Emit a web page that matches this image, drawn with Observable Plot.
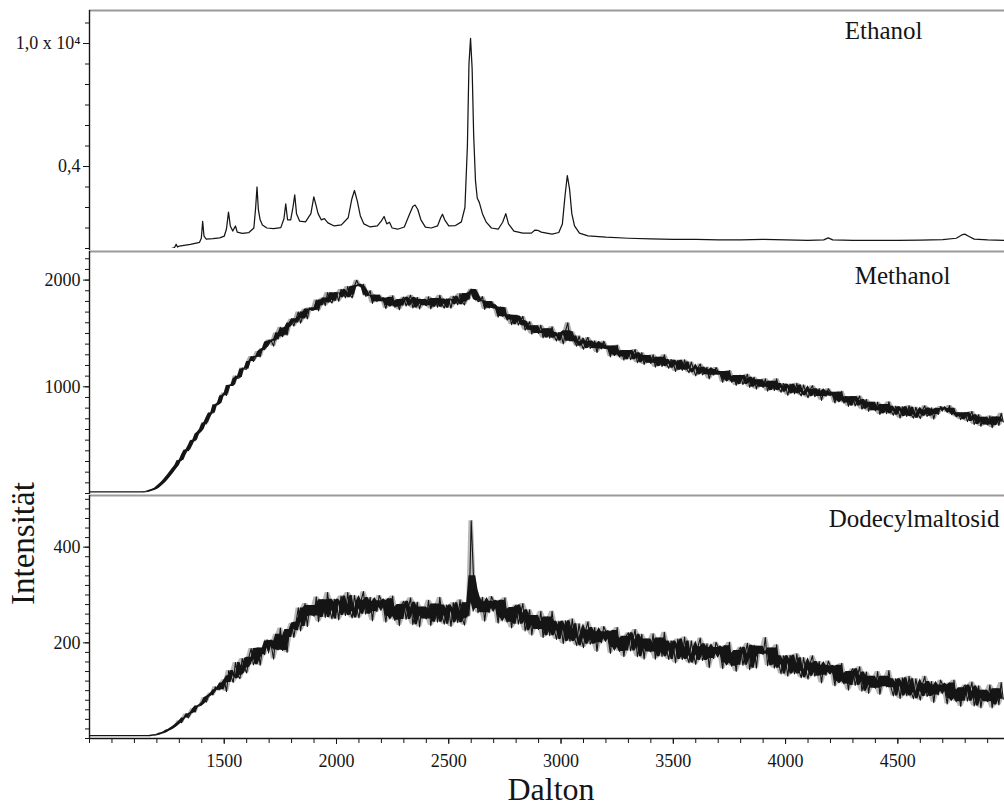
<!DOCTYPE html>
<html><head><meta charset="utf-8">
<script src="https://cdn.jsdelivr.net/npm/d3@7"></script>
<script src="https://cdn.jsdelivr.net/npm/@observablehq/plot@0.6"></script>
<style>
body{margin:0;background:#fff;}
#chart{width:1004px;height:810px;position:relative;overflow:hidden;background:#fff;}
#chart svg{display:block;}
</style></head><body><div id="chart"></div>
<script>
// ---------- data ----------
const xDomain = [900, 4975];
const xMinorTicks = [900,1000,1100,1200,1300,1400,1500,1600,1700,1800,1900,2000,2100,2200,2300,2400,2500,2600,2700,2800,2900,3000,3100,3200,3300,3400,3500,3600,3700,3800,3900,4000,4100,4200,4300,4400,4500,4600,4700,4800,4900];
const xLabelTicks = [1500,2000,2500,3000,3500,4000,4500];

const panelNames = ["Ethanol", "Methanol", "Dodecylmaltosid"];

// Ethanol (units of 10^4)
const ethanolDalton = [900,1000,1100,1200,1265,1278,1286,1292,1300,1350,1390,1398,1404,1410,1420,1450,1480,1500,1510,1519,1527,1538,1550,1558,1580,1610,1632,1640,1646,1652,1660,1670,1690,1720,1752,1766,1774,1782,1796,1806,1814,1822,1836,1862,1886,1899,1909,1918,1932,1946,1962,1990,2022,2052,2068,2080,2092,2106,2122,2150,2182,2200,2212,2224,2236,2248,2272,2302,2326,2340,2350,2362,2376,2396,2422,2450,2464,2472,2482,2500,2530,2556,2572,2583,2590,2597,2604,2611,2619,2627,2636,2650,2666,2690,2720,2740,2754,2766,2790,2830,2868,2884,2896,2912,2960,2990,3006,3018,3028,3038,3048,3060,3082,3120,3200,3300,3400,3500,3600,3700,3800,3900,4000,4100,4170,4190,4210,4300,4400,4500,4600,4700,4760,4785,4798,4815,4840,4900,4975];
const ethanolIntensity = [0,0,0,0,0,0.004,0.02,0.007,0.012,0.02,0.03,0.05,0.132,0.06,0.046,0.048,0.052,0.06,0.095,0.178,0.11,0.085,0.11,0.08,0.074,0.078,0.1,0.2,0.3,0.19,0.14,0.115,0.1,0.097,0.102,0.145,0.218,0.14,0.14,0.2,0.262,0.17,0.133,0.13,0.17,0.252,0.21,0.17,0.14,0.146,0.125,0.11,0.115,0.15,0.24,0.283,0.235,0.16,0.12,0.105,0.11,0.135,0.156,0.12,0.128,0.1,0.094,0.105,0.17,0.205,0.212,0.19,0.14,0.104,0.1,0.11,0.15,0.167,0.14,0.11,0.112,0.13,0.2,0.5,0.9,1.025,0.88,0.55,0.33,0.245,0.225,0.17,0.13,0.1,0.094,0.128,0.17,0.12,0.085,0.075,0.075,0.09,0.089,0.08,0.07,0.078,0.12,0.26,0.356,0.29,0.17,0.11,0.075,0.062,0.055,0.05,0.047,0.045,0.044,0.042,0.042,0.045,0.042,0.04,0.042,0.052,0.042,0.04,0.04,0.04,0.041,0.043,0.05,0.066,0.07,0.06,0.046,0.042,0.04];

// Methanol and Dodecylmaltosid: sampled every 10 Da from 900 Da (one row = 100 Da)
const sampleStart = 900, sampleStep = 10;
const methanolIntensity = [
15,15,15,15,15,15,15,15,15,15,
15,15,15,15,15,15,15,15,15,15,
15,15,15,15,15,16,19,25,32,41,
50,68,86,106,130,155,180,208,236,262,
307,311,361,409,401,449,498,494,556,574,
600,665,652,713,755,754,831,830,847,913,
941,919,1011,1016,1013,1101,1078,1087,1176,1166,
1165,1238,1284,1238,1274,1330,1280,1360,1348,1418,
1438,1427,1381,1505,1446,1558,1469,1548,1484,1598,
1635,1568,1637,1701,1597,1662,1728,1636,1741,1716,
1720,1814,1712,1795,1832,1760,1884,1812,1785,1882,
1878,1801,1913,1880,1834,1940,1861,1834,1942,1998,
1950,1934,1960,1848,1859,1900,1782,1859,1798,1860,
1828,1798,1733,1838,1760,1853,1745,1805,1722,1817,
1840,1757,1810,1858,1738,1787,1837,1729,1818,1777,
1760,1843,1730,1802,1828,1745,1858,1775,1737,1823,
1813,1736,1848,1814,1768,1874,1795,1767,1875,1817,
1915,1887,1911,1797,1806,1845,1725,1800,1737,1799,
1768,1728,1653,1748,1660,1743,1625,1675,1582,1667,
1670,1578,1621,1660,1530,1570,1610,1493,1572,1522,
1500,1577,1458,1524,1544,1455,1562,1473,1429,1509,
1488,1402,1525,1600,1428,1515,1422,1381,1475,1403,
1352,1428,1463,1360,1380,1430,1321,1407,1355,1426,
1383,1349,1281,1382,1301,1390,1279,1335,1249,1340,
1340,1254,1304,1349,1226,1272,1319,1208,1294,1250,
1220,1300,1184,1253,1276,1190,1300,1214,1173,1256,
1228,1143,1248,1207,1154,1252,1166,1131,1232,1166,
1102,1179,1214,1112,1132,1183,1074,1161,1109,1181,
1143,1110,1042,1144,1063,1153,1042,1099,1013,1105,
1107,1021,1072,1117,995,1041,1089,978,1065,1021,
995,1075,959,1028,1051,965,1075,989,948,1031,
1003,920,1025,986,934,1033,948,915,1016,952,
897,974,1010,908,930,981,873,960,910,982,
950,917,848,950,869,958,847,904,817,909,
907,820,869,914,790,835,881,770,855,810,
775,856,740,810,834,748,859,774,733,817,
788,706,812,774,722,823,738,706,808,745,
702,782,822,723,747,802,697,787,740,815,
797,791,760,824,739,799,718,756,692,749,
760,674,724,769,646,692,739,628,714,670,
642,727,616,690,718,637,752,671];

const dodecylIntensity = [
6,6,6,6,6,6,6,6,6,6,
6,6,6,6,6,6,6,6,6,6,
6,6,6,6,6,6,6,6,7,7,
8,9,11,12,14,17,19,22,25,29,
37,33,43,51,43,52,62,55,68,68,
71,85,76,88,95,91,108,102,102,116,
123,98,142,131,117,159,132,125,167,148,
137,170,188,154,166,189,153,189,175,206,
204,193,166,218,185,231,184,215,180,228,
241,211,243,273,225,254,282,234,278,260,
256,296,244,279,290,253,305,268,250,291,
285,248,298,280,257,305,266,252,299,271,
252,289,307,260,271,295,246,287,265,299,
288,274,243,292,255,298,247,275,236,280,
287,249,273,294,238,261,285,233,275,256,
250,289,236,270,281,243,295,257,239,279,
271,234,284,266,242,290,251,237,284,256,
455,340,311,263,272,295,245,286,263,297,
287,272,241,289,252,294,243,270,231,274,
279,239,262,282,225,246,269,216,257,236,
228,266,211,244,254,215,266,226,207,245,
236,198,246,227,203,250,210,194,240,210,
190,227,244,197,207,232,182,223,200,234,
223,208,178,226,190,232,182,209,171,214,
221,183,206,228,171,194,218,166,208,188,
181,219,166,199,210,171,222,184,165,204,
196,158,208,189,165,212,173,158,204,175,
155,192,210,163,174,198,148,190,167,201,
190,176,146,194,158,201,151,178,140,184,
191,153,177,199,144,168,195,147,193,178,
176,211,152,182,189,147,196,155,135,173,
164,130,174,157,135,177,141,127,169,143,
124,158,173,130,139,161,116,153,132,162,
151,138,110,153,119,157,114,136,101,140,
146,111,131,150,99,119,139,94,130,112,
105,140,92,121,130,108,142,106,89,125,
117,83,127,110,89,130,96,83,125,99,
80,114,130,88,97,119,75,112,91,122,
112,99,72,116,83,122,77,101,67,106,
112,78,98,118,68,88,110,64,101,84,
77,112,64,94,104,70,117,82];

// y tick values and labels
const ethanolTicks = [0,0.1,0.2,0.3,0.4,0.5,0.6,0.7,0.8,0.9,1.0,1.1];
const ethanolLabelTicks = [0.4, 1.0];
const ethanolLabels = ["0,4", "1,0 x 10\u2074"];
const methanolTicks = [0,100,200,300,400,500,600,700,800,900,1000,1100,1200,1300,1400,1500,1600,1700,1800,1900,2000,2100,2200];
const methanolLabelTicks = [1000, 2000];
const methanolLabels = ["1000", "2000"];
const dodecylTicks = [0,20,40,60,80,100,120,140,160,180,200,220,240,260,280,300,320,340,360,380,400,420,440,460,480,500];
const dodecylLabelTicks = [200, 400];
const dodecylLabels = ["200", "400"];

const axisTitleX = "Dalton";
const axisTitleY = "Intensität";

// ---------- drawing ----------
const SERIF = "'Liberation Serif', 'Times New Roman', 'DejaVu Serif', serif";
const INK = "#151515";

const ethanolData = ethanolDalton.map((d, i) => ({x: d, y: ethanolIntensity[i]}));
// envelope of the noisy trace: full range of each 3-sample window (outer halo)
// and 2nd lowest / 2nd highest of each 5-sample window (dense core)
function sampled(vals) {
  return vals.map((v, i) => {
    const w3 = vals.slice(Math.max(0, i - 1), Math.min(vals.length, i + 2));
    const w5 = vals.slice(Math.max(0, i - 2), Math.min(vals.length, i + 3)).sort((a, b) => a - b);
    const n = w5.length;
    return {x: sampleStart + i * sampleStep, y: v,
      lo: Math.min(...w3), hi: Math.max(...w3),
      clo: w5[Math.min(1, n - 1)], chi: w5[Math.max(0, n - 2)]};
  });
}
const methanolData = sampled(methanolIntensity);
const dodecylData = sampled(dodecylIntensity);

function panel(o) {
  const marks = [
    Plot.ruleY([o.yDomain[1]], {stroke: "#9a9a9a", strokeWidth: 2}),
    Plot.ruleX([xDomain[0]], {stroke: INK, strokeWidth: 1.4, insetBottom: o.axisExt}),
    Plot.axisY({ticks: o.ticks, tickSize: 4, tickFormat: () => "", label: null, stroke: INK}),
    Plot.axisY({ticks: o.labelTicks, tickSize: 6, tickPadding: 3, label: null, stroke: INK,
      tickFormat: (d) => o.labels[o.labelTicks.indexOf(d)], fontSize: 18, fontFamily: SERIF, fill: INK})
  ];
  if (o.band) {
    marks.push(
      Plot.areaY(o.data, {x: "x", y1: "lo", y2: "hi", fill: INK, fillOpacity: o.band, clip: true}),
      Plot.areaY(o.data, {x: "x", y1: "clo", y2: "chi", fill: INK, fillOpacity: 1, clip: true})
    );
  }
  marks.push(
    Plot.line(o.data, {x: "x", y: "y", stroke: INK, strokeWidth: o.sw, clip: true}),
    Plot.text([o.name], {frameAnchor: "top-right", textAnchor: "end", dx: o.ndx, dy: o.ndy,
      fontSize: 25, fontFamily: SERIF, fill: INK})
  );
  if (o.bottom) {
    marks.push(
      Plot.ruleY([0], {stroke: INK, strokeWidth: 1.4}),
      Plot.axisX({ticks: xMinorTicks, tickSize: 5, tickFormat: () => "", label: null, stroke: INK}),
      Plot.axisX({ticks: xLabelTicks, tickSize: 6, tickPadding: 10, label: null, stroke: INK,
        tickFormat: (d) => String(d), fontSize: 18, fontFamily: SERIF, fill: INK}),
      Plot.text([axisTitleX], {frameAnchor: "bottom", dx: 4, dy: 61, fontSize: 32, fontFamily: SERIF, fill: INK}),
      Plot.text([axisTitleY], {frameAnchor: "left", rotate: -90, dx: -66, dy: -12, fontSize: 33, fontFamily: SERIF, fill: INK})
    );
  }
  return Plot.plot({
    width: 1004, height: o.height,
    marginLeft: 89, marginRight: 0, marginTop: o.mt, marginBottom: o.mb,
    x: {domain: xDomain, axis: o.bottom ? undefined : null},
    y: {domain: o.yDomain},
    style: {fontFamily: SERIF, fontSize: "18px", color: INK, background: "transparent", overflow: "visible"},
    marks
  });
}

const chart = document.getElementById("chart");
chart.append(panel({data: ethanolData, yDomain: [0, 1.161], ticks: ethanolTicks, labelTicks: ethanolLabelTicks,
  labels: ethanolLabels, height: 250, mt: 10, mb: 2, axisExt: -2, name: panelNames[0], ndx: -82, ndy: 11, sw: 1.25}));
chart.append(panel({data: methanolData, yDomain: [0, 2268], ticks: methanolTicks, labelTicks: methanolLabelTicks,
  labels: methanolLabels, height: 244, mt: 1, mb: 1, axisExt: -1, name: panelNames[1], ndx: -54, ndy: 15, sw: 1.1, band: 0.35}));
chart.append(panel({data: dodecylData, yDomain: [0, 508], ticks: dodecylTicks, labelTicks: dodecylLabelTicks,
  labels: dodecylLabels, height: 316, mt: 1, mb: 72, axisExt: 0, name: panelNames[2], ndx: -5, ndy: 14, sw: 1.1, band: 0.3, bottom: true}));
</script></body></html>
